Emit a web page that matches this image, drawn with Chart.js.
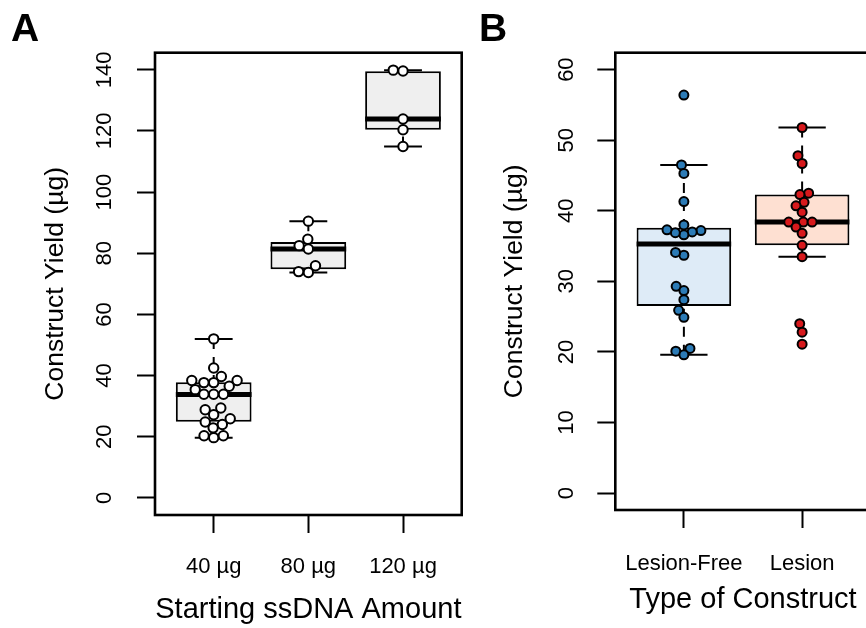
<!DOCTYPE html>
<html><head><meta charset="utf-8">
<script src="https://cdn.jsdelivr.net/npm/chart.js@4.4.1/dist/chart.umd.min.js"></script>
<style>
html,body{margin:0;padding:0;background:#fff;overflow:hidden;width:866px;height:628px;position:relative;}
#wrapA{position:absolute;left:0;top:0;width:470px;height:628px;}
#wrapB{position:absolute;left:470px;top:0;width:410px;height:628px;}
.lbl{position:absolute;font:bold 39px "Liberation Sans",Arial,sans-serif;line-height:39px;color:#000;}
</style></head><body>
<div id="wrapA"><canvas id="cA"></canvas></div>
<div id="wrapB"><canvas id="cB"></canvas></div>
<div class="lbl" style="left:11px;top:8px;">A</div>
<div class="lbl" style="left:479px;top:8px;">B</div>
<script>
// ---------- DATA ----------
const catsA = ['40 µg', '80 µg', '120 µg'];
const pts40 = [52.0, 42.5, 39.7, 38.4, 38.4, 37.7, 37.7, 36.5, 35.4, 33.9, 33.9, 33.9, 29.4, 28.8, 27.2, 25.9, 24.8, 24.0, 22.9, 20.3, 19.7, 20.3];
const pts80 = [90.5, 84.6, 82.5, 81.4, 75.9, 73.7, 74.0];
const pts120 = [139.6, 139.9, 123.9, 120.4, 114.9];
// [lower whisker, Q1, median, Q3, upper whisker]
const statsA = [[19.7, 24.9, 33.8, 37.8, 52.0], [73.7, 74.8, 81.4, 83.7, 90.5], [114.9, 120.4, 123.9, 139.5, 139.9]];
const yTicksA = [0, 20, 40, 60, 80, 100, 120, 140];

const catsB = ['Lesion-Free', 'Lesion'];
const ptsFree = [56.4, 46.5, 45.3, 41.3, 38.0, 37.2, 37.0, 36.6, 36.9, 37.3, 33.7, 34.1, 29.3, 28.7, 27.4, 25.9, 24.9, 20.5, 20.1, 19.6];
const ptsLesion = [51.8, 47.8, 46.7, 42.5, 42.3, 41.2, 40.7, 39.8, 38.4, 38.4, 38.4, 37.7, 36.8, 35.1, 33.5, 24.0, 22.8, 21.1];
const statsB = [[19.6, 26.5, 35.3, 37.6, 46.5], [33.5, 35.1, 38.4, 42.3, 51.8]];
const yTicksB = [0, 10, 20, 30, 40, 50, 60];

// ---------- RENDER ----------
Chart.defaults.font.family = '"Liberation Sans", Arial, Helvetica, sans-serif';
Chart.defaults.color = '#000';

const framePlugin = {
  id: 'frame',
  afterDatasetsDraw(chart) {
    const a = chart.chartArea, ctx = chart.ctx;
    ctx.save(); ctx.strokeStyle = '#000'; ctx.lineWidth = 2.6;
    ctx.strokeRect(a.left, a.top, a.right - a.left, a.bottom - a.top);
    ctx.restore();
  }
};
const yLabelPlugin = {
  id: 'yLabels',
  afterDraw(chart, args, o) {
    const ys = chart.scales.y, ctx = chart.ctx;
    ctx.save(); ctx.font = o.size + 'px "Liberation Sans", Arial, sans-serif';
    ctx.fillStyle = '#000'; ctx.textAlign = 'center'; ctx.textBaseline = 'middle';
    ys.ticks.forEach(t => {
      const y = ys.getPixelForValue(t.value);
      ctx.save(); ctx.translate(o.x, y); ctx.rotate(-Math.PI / 2);
      ctx.fillText(String(t.value), 0, 0); ctx.restore();
    });
    ctx.restore();
  }
};

function buildPanel(canvas, p) {
  const ds = [];
  p.groups.forEach((vals, i) => ds.push({
    type: 'scatter', data: vals.map(v => ({x: i + 1, y: v})),
    pointRadius: p.ptR, pointBorderWidth: 2, backgroundColor: p.ptFill[i], borderColor: '#000',
    pointBackgroundColor: p.ptFill[i], pointBorderColor: '#000',
    order: 0, swarm: true, center: i + 1, clip: false
  }));
  const seg = (pts, w, dash, order) => ds.push({
    type: 'line', data: pts, borderColor: '#000', borderWidth: w, borderDash: dash || [],
    pointRadius: 0, fill: false, tension: 0, order: order, borderCapStyle: 'butt'
  });
  p.stats.forEach((s, i) => {
    const c = i + 1;
    seg([{x: c - 0.4, y: s[2]}, {x: c + 0.4, y: s[2]}], 5, null, 1);
    seg([{x: c, y: s[4]}, {x: c, y: s[3]}], 2, [10, 8], 2);
    seg([{x: c, y: s[0]}, {x: c, y: s[1]}], 2, [10, 8], 2);
    seg([{x: c - 0.2, y: s[4]}, {x: c + 0.2, y: s[4]}], 2, null, 2);
    seg([{x: c - 0.2, y: s[0]}, {x: c + 0.2, y: s[0]}], 2, null, 2);
  });
  ds.push({
    type: 'bar', data: p.stats.map((s, i) => ({x: i + 1, y: [s[1], s[3]]})),
    backgroundColor: p.boxFill, borderColor: '#000', borderWidth: 2, borderSkipped: false,
    barPercentage: 0.8, categoryPercentage: 1, order: 5
  });
  const n = p.cats.length;
  const chart = new Chart(canvas, {
    type: 'bar',
    data: {datasets: ds},
    plugins: [framePlugin, yLabelPlugin],
    options: {
      responsive: true, maintainAspectRatio: false, animation: false, events: [],
      devicePixelRatio: 1,
      layout: {padding: {left: 0, right: p.padRight, top: 52.7, bottom: 0}},
      plugins: {legend: {display: false}, tooltip: {enabled: false},
        yLabels: {x: p.yLabelX, size: 22}},
      scales: {
        x: {
          type: 'linear', min: 0.5 - n * 0.04, max: n + 0.5 + n * 0.04, offset: false,
          afterBuildTicks: s => { s.ticks = p.cats.map((c, i) => ({value: i + 1})); },
          afterFit: s => { s.height = p.xHeight; },
          ticks: {callback: v => p.cats[Math.round(v) - 1], font: {size: 22}, color: '#000',
            padding: p.xTickPad, autoSkip: false, maxRotation: 0, minRotation: 0},
          grid: {display: true, offset: false, drawOnChartArea: false, drawTicks: true, tickLength: 18, tickWidth: 2, tickColor: '#000', color: '#000'},
          border: {display: false},
          title: {display: true, text: p.xTitle, font: {size: 29, lineHeight: 1}, color: '#000', padding: {top: 0, bottom: p.xTitlePad}}
        },
        y: {
          type: 'linear', min: p.yMin, max: p.yMax,
          afterBuildTicks: s => { s.ticks = p.yTicks.map(v => ({value: v})); },
          afterFit: s => { s.width = p.yWidth; },
          ticks: {display: false},
          grid: {display: true, offset: false, drawOnChartArea: false, drawTicks: true, tickLength: 18, tickWidth: 2, tickColor: '#000', color: '#000'},
          border: {display: false},
          title: {display: true, text: 'Construct Yield (µg)', font: {size: 26.5, lineHeight: 1}, color: '#000', padding: {top: p.yTitlePad, bottom: 0}}
        }
      }
    }
  });
  applySwarm(chart, p.diam);
  return chart;
}

function applySwarm(chart, diam) {
  const xs = chart.scales.x, ys = chart.scales.y;
  chart.data.datasets.forEach(d => {
    if (!d.swarm) return;
    const cpx = xs.getPixelForValue(d.center);
    const items = d.data.map((pt, i) => ({i: i, v: pt.y, py: ys.getPixelForValue(pt.y)}));
    const ordered = items.slice().sort((a, b) => a.v - b.v);
    const placed = [];
    ordered.forEach(it => {
      const cands = [0];
      placed.forEach(q => {
        const dy = it.py - q.py;
        if (Math.abs(dy) < diam) { const dx = Math.sqrt(diam * diam - dy * dy); cands.push(q.off + dx, q.off - dx); }
      });
      cands.sort((a, b) => (Math.abs(a) - Math.abs(b)) || (a - b));
      let best = 0;
      for (const c of cands) {
        if (placed.every(q => (q.off - c) * (q.off - c) + (q.py - it.py) * (q.py - it.py) >= diam * diam - 0.01)) { best = c; break; }
      }
      it.off = best; placed.push(it);
    });
    items.forEach(it => { d.data[it.i].x = xs.getValueForPixel(cpx + it.off); });
  });
  chart.update('none');
}

buildPanel(document.getElementById('cA'), {
  cats: catsA, groups: [pts40, pts80, pts120], stats: statsA,
  ptFill: ['#ffffff', '#ffffff', '#ffffff'], boxFill: '#efefef', ptR: 4.7, diam: 9.8,
  yMin: -5.6, yMax: 145.6, yTicks: yTicksA, xTitle: 'Starting ssDNA Amount',
  padRight: 470 - 461.7, yWidth: 155, xHeight: 628 - 515, xTickPad: 21, xTitlePad: 3.5,
  yTitlePad: 42.7, yLabelX: 104.5
});
buildPanel(document.getElementById('cB'), {
  cats: catsB, groups: [ptsFree, ptsLesion], stats: statsB,
  ptFill: ['#2c7bb6', '#d7191c'], boxFill: ['#deebf7', '#fee0d2'], ptR: 4.5, diam: 8.8,
  yMin: -2.4, yMax: 62.4, yTicks: yTicksB, xTitle: 'Type of Construct',
  padRight: 410 - 400.7, yWidth: 145.3, xHeight: 628 - 510, xTickPad: 23, xTitlePad: 13.5,
  yTitlePad: 31.7, yLabelX: 96.5
});
</script>
</body></html>
